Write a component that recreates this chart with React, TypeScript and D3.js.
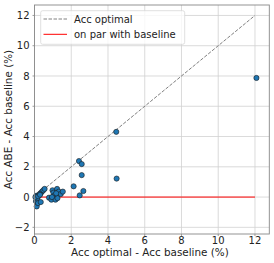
import React from "react";
import * as d3 from "d3";

// Acc optimal - Acc baseline (%)
const gainOptimal = [
  0.08, 0.12, 0.15, 0.19, 0.1, 0.23, 0.34, 0.34, 0.41, 0.48, 0.55, 0.05, 0.28, 0.2, 0.3,
  0.79, 0.92, 0.98, 1.03, 1.09, 1.14, 1.23, 1.23, 1.25, 1.32, 1.43, 1.54, 0.95, 1.18,
  2.13, 2.42, 2.46, 2.57, 2.57, 2.66, 4.45, 4.47, 12.08,
];
// Acc ABE - Acc baseline (%)
const gainABE = [
  -0.27, -0.62, -0.11, -0.4, 0.09, 0.11, -0.33, 0.27, 0.36, 0.45, 0.54, 0.0, 0.2, 0.05, 0.15,
  -0.04, -0.17, 0.45, 0.29, 0.11, -0.17, 0.54, 0.13, -0.07, 0.36, 0.2, 0.36, 0.0, 0.25,
  0.71, 2.38, 0.11, 2.18, 1.45, 0.4, 4.31, 1.22, 7.87,
];

const xTicks = [0, 2, 4, 6, 8, 10, 12];
const yTicks = [-2, 0, 2, 4, 6, 8, 10, 12];

const W = 274, H = 263;
const left = 34.5, right = 269.3, top = 5, bottom = 234;
const font = "DejaVu Sans, sans-serif";

export default function App() {
  const x = d3.scaleLinear().domain([0, 12.78]).range([left, right]);
  const y = d3.scaleLinear().domain([-2.44, 12.69]).range([bottom, top]);
  const pts = gainOptimal.map((v, i) => ({ x: v, y: gainABE[i] }));
  const line = d3.line<[number, number]>().x(d => x(d[0])).y(d => y(d[1]));

  return (
    <svg width={W} height={H} style={{ position: "absolute", left: 0, top: 0 }} fontFamily={font}>
      <rect x={0} y={0} width={W} height={H} fill="white" />
      {/* grid */}
      {xTicks.map(t => (
        <line key={"gx" + t} x1={x(t)} x2={x(t)} y1={top} y2={bottom} stroke="#d0d0d0" strokeWidth={0.8} />
      ))}
      {yTicks.map(t => (
        <line key={"gy" + t} x1={left} x2={right} y1={y(t)} y2={y(t)} stroke="#d0d0d0" strokeWidth={0.8} />
      ))}
      {/* reference lines */}
      <path d={line([[0, 0], [12, 12]]) || ""} stroke="#808080" strokeWidth={1} strokeDasharray="3.5,1.5" fill="none" />
      <path d={line([[0, 0], [12, 0]]) || ""} stroke="red" strokeWidth={1} fill="none" />
      {/* points */}
      {pts.map((p, i) => (
        <circle key={i} cx={x(p.x)} cy={y(p.y)} r={2.6} fill="#1f77b4" stroke="#1a1a1a" strokeWidth={0.6} />
      ))}
      {/* spines */}
      <rect x={left} y={top} width={right - left} height={bottom - top} fill="none" stroke="#888" strokeWidth={0.9} />
      {/* ticks */}
      {xTicks.map(t => (
        <g key={"tx" + t}>
          <line x1={x(t)} x2={x(t)} y1={bottom} y2={bottom + 2} stroke="#888" strokeWidth={0.8} />
          <text x={x(t)} y={bottom + 10.3} fontSize={10} textAnchor="middle" fill="#222">
            {t < 0 ? "\u2212" + Math.abs(t) : t}
          </text>
        </g>
      ))}
      {yTicks.map(t => (
        <g key={"ty" + t}>
          <line x1={left - 2} x2={left} y1={y(t)} y2={y(t)} stroke="#888" strokeWidth={0.8} />
          <text x={left - 5} y={y(t) + 3.6} fontSize={10} textAnchor="end" fill="#222">
            {t < 0 ? "\u2212" + Math.abs(t) : t}
          </text>
        </g>
      ))}
      {/* axis labels */}
      <text x={(left + right) / 2 - 2} y={256} fontSize={10.4} textAnchor="middle" fill="#222">
        Acc optimal - Acc baseline (%)
      </text>
      <text transform={`translate(11.5,${(top + bottom) / 2}) rotate(-90)`} fontSize={10.4} textAnchor="middle" fill="#222">
        Acc ABE - Acc baseline (%)
      </text>
      {/* legend */}
      <rect x={40.7} y={10.7} width={144} height={33.6} rx={2} fill="white" fillOpacity={0.8} stroke="#d8d8d8" strokeWidth={0.8} />
      <line x1={43.5} x2={67} y1={19} y2={19} stroke="#808080" strokeWidth={1} strokeDasharray="3.5,1.5" />
      <text x={74} y={22.5} fontSize={10} fill="#222">Acc optimal</text>
      <line x1={43.5} x2={67} y1={34.3} y2={34.3} stroke="red" strokeWidth={1} />
      <text x={74} y={37.8} fontSize={10} fill="#222">on par with baseline</text>
    </svg>
  );
}
